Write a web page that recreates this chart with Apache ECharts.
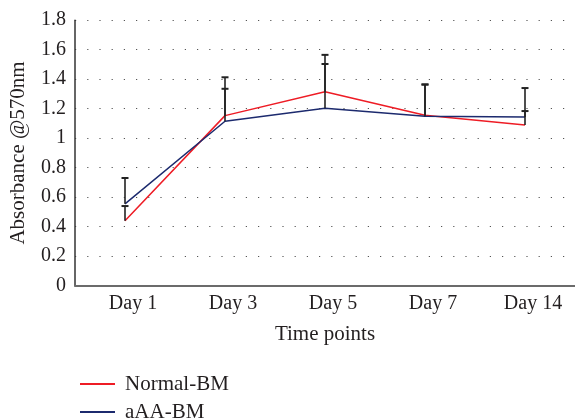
<!DOCTYPE html>
<html>
<head>
<meta charset="utf-8">
<script src="https://cdn.jsdelivr.net/npm/echarts@6/dist/echarts.min.js"></script>
<style>
html,body{margin:0;padding:0;background:#fff;}
#c{width:575px;height:419px;}
</style>
</head>
<body>
<div id="c"></div>
<script>
const categories = ['Day 1', 'Day 3', 'Day 5', 'Day 7', 'Day 14'];
const normalBM = [0.44, 1.153, 1.315, 1.155, 1.09];
const aaaBM = [0.555, 1.115, 1.203, 1.148, 1.144];
const errNormal = [0.10, 0.26, 0.25, 0.21, 0.25];
const errAAA = [0.175, 0.22, 0.30, 0.215, 0.04];
const yTicks = [0, 0.2, 0.4, 0.6, 0.8, 1, 1.2, 1.4, 1.6, 1.8];

const FONT = 'Liberation Serif';
const TXT = '#231f20';

function errData(vals, errs) {
  return vals.map((v, i) => [i, v, errs[i]]);
}
function renderErr(params, api) {
  const i = api.value(0), v = api.value(1), e = api.value(2);
  const p0 = api.coord([i, v]);
  const p1 = api.coord([i, v + e]);
  const hw = 3.5;
  const st = { stroke: '#222', lineWidth: 1.6 };
  return {
    type: 'group',
    children: [
      { type: 'line', shape: { x1: p0[0], y1: p0[1], x2: p1[0], y2: p1[1] }, style: st },
      { type: 'line', shape: { x1: p1[0] - hw, y1: p1[1], x2: p1[0] + hw, y2: p1[1] }, style: { stroke: '#222', lineWidth: 2 } }
    ]
  };
}

const chart = echarts.init(document.getElementById('c'));
chart.setOption({
  animation: false,
  textStyle: { fontFamily: FONT, color: TXT },
  grid: { left: 74.5, top: 20.2, width: 504, height: 265.5, containLabel: false },
  legend: {
    orient: 'vertical',
    left: 75,
    top: 368,
    height: 120,
    icon: 'rect',
    itemWidth: 35,
    itemHeight: 2,
    itemGap: 6,
    data: ['Normal-BM', 'aAA-BM'],
    textStyle: { fontFamily: FONT, fontSize: 21, color: TXT, padding: [0, 0, 0, 5], lineHeight: 22 }
  },
  xAxis: {
    type: 'category',
    data: categories,
    boundaryGap: true,
    name: 'Time points',
    nameLocation: 'middle',
    nameGap: 38,
    nameTextStyle: { fontFamily: FONT, fontSize: 21, color: TXT },
    axisLine: { lineStyle: { color: '#6b6b6b', width: 2 } },
    axisTick: { show: false },
    axisLabel: { fontFamily: FONT, fontSize: 20, color: TXT, margin: 8, padding: [0, 0, 0, 16] },
    splitLine: { show: false }
  },
  yAxis: {
    type: 'value',
    min: 0,
    max: 1.8,
    interval: 0.2,
    name: 'Absorbance @570nm',
    nameLocation: 'middle',
    nameGap: 46,
    nameTextStyle: { fontFamily: FONT, fontSize: 21, color: TXT },
    axisLine: { show: true, lineStyle: { color: '#333', width: 1.5 } },
    axisTick: { show: false },
    axisLabel: {
      fontFamily: FONT, fontSize: 20, color: TXT, margin: 9,
      formatter: function (v) {
        const t = yTicks.find(x => Math.abs(x - v) < 1e-6);
        return t === undefined ? '' : String(t);
      }
    },
    splitLine: { show: true, lineStyle: { color: '#555', width: 1.2, type: [1.2, 11], dashOffset: 0 } }
  },
  series: [
    {
      name: 'Normal-BM', type: 'line', data: normalBM,
      symbol: 'none', color: '#ee1c25',
      lineStyle: { color: '#ee1c25', width: 1.5 }, z: 3
    },
    {
      name: 'aAA-BM', type: 'line', data: aaaBM,
      symbol: 'none', color: '#1c2a6e',
      lineStyle: { color: '#1c2a6e', width: 1.5 }, z: 3
    },
    {
      name: 'errN', type: 'custom', data: errData(normalBM, errNormal),
      renderItem: renderErr, encode: { x: 0, y: 1 }, z: 4, silent: true
    },
    {
      name: 'errA', type: 'custom', data: errData(aaaBM, errAAA),
      renderItem: renderErr, encode: { x: 0, y: 1 }, z: 4, silent: true
    }
  ]
});
</script>
</body>
</html>
